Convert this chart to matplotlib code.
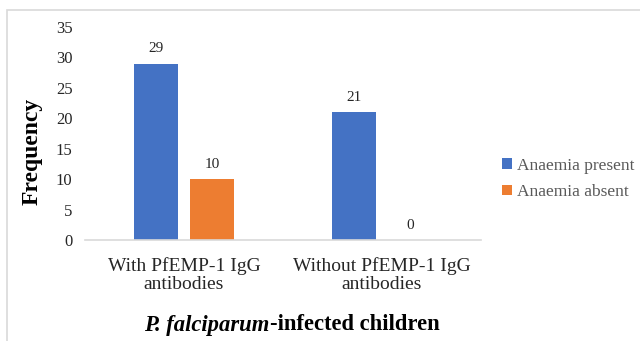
import matplotlib
matplotlib.use("Agg")
import matplotlib.pyplot as plt
from matplotlib.patches import Rectangle
import numpy as np

categories = ["With PfEMP-1 IgG\nantibodies", "Without PfEMP-1 IgG\nantibodies"]
series_names = ["Anaemia present", "Anaemia absent"]
anaemia_present = [29, 21]
anaemia_absent = [10, 0]
yticks = [0, 5, 10, 15, 20, 25, 30, 35]
xlabel_italic = "P. falciparum"
xlabel_rest = "-infected children"

plt.rcParams['font.family'] = ['Liberation Serif', 'DejaVu Serif']

fig = plt.figure(figsize=(6.4, 3.41), dpi=100)
ax = fig.add_axes([85/640, 101/341, 396/640, 213/341])

x = np.arange(len(categories))
w = 0.225
off = 0.142
blue = '#4472C4'
orange = '#ED7D31'
b1 = ax.bar(x - off, anaemia_present, w, color=blue, label=series_names[0])
b2 = ax.bar(x + off, anaemia_absent, w, color=orange, label=series_names[1])

for bars, vals in ((b1, anaemia_present), (b2, anaemia_absent)):
    for r, v in zip(bars, vals):
        ax.annotate(str(v), (r.get_x() + r.get_width()/2, v), xytext=(0, 6),
                    textcoords='offset points', ha='center', va='bottom',
                    fontsize=11, color='#262626')

ax.set_xlim(-0.5, 1.5)
ax.set_ylim(0, 35)
ax.set_yticks(yticks)
ax.set_xticks(x)
ax.set_xticklabels(categories, fontsize=14, color='#262626', linespacing=1.15)
ax.tick_params(axis='y', labelsize=12, colors='#262626', length=0, pad=9)
ax.tick_params(axis='x', length=0, pad=12)
for s in ('top', 'right', 'left'):
    ax.spines[s].set_visible(False)
ax.spines['bottom'].set_color('#D9D9D9')
ax.spines['bottom'].set_linewidth(1.2)

fig.text(32/640, 1 - 151/341, 'Frequency', rotation=90, ha='center', va='center',
         fontsize=17, fontweight='bold', color='black')

# x-axis title composed of bold-italic and bold parts
renderer = fig.canvas.get_renderer()
t1 = fig.text(0, 1 - 325/341, xlabel_italic, ha='left', va='center', fontsize=16.3,
              fontweight='bold', fontstyle='italic', color='black')
t2 = fig.text(0, 1 - 325/341, xlabel_rest, ha='left', va='center', fontsize=16.3,
              fontweight='bold', color='black')
w1 = t1.get_window_extent(renderer).width
w2 = t2.get_window_extent(renderer).width
x0 = 292 - (w1 + w2) / 2
t1.set_x(x0 / 640)
t2.set_x((x0 + w1) / 640)

leg = fig.legend(loc='center left', bbox_to_anchor=(502/640, 1 - 179/341), frameon=False,
                 fontsize=12.5, handlelength=0.55, handleheight=0.55, handletextpad=0.3,
                 labelspacing=0.6, borderaxespad=0, borderpad=0)
for t in leg.get_texts():
    t.set_color('#595959')

fig.patches.append(Rectangle((7/640, -0.1), 1.2, 1 - 10/341 + 0.1, transform=fig.transFigure,
                             fill=False, edgecolor='#D9D9D9', linewidth=1.2, clip_on=False))

fig.savefig('out.png', dpi=100)
